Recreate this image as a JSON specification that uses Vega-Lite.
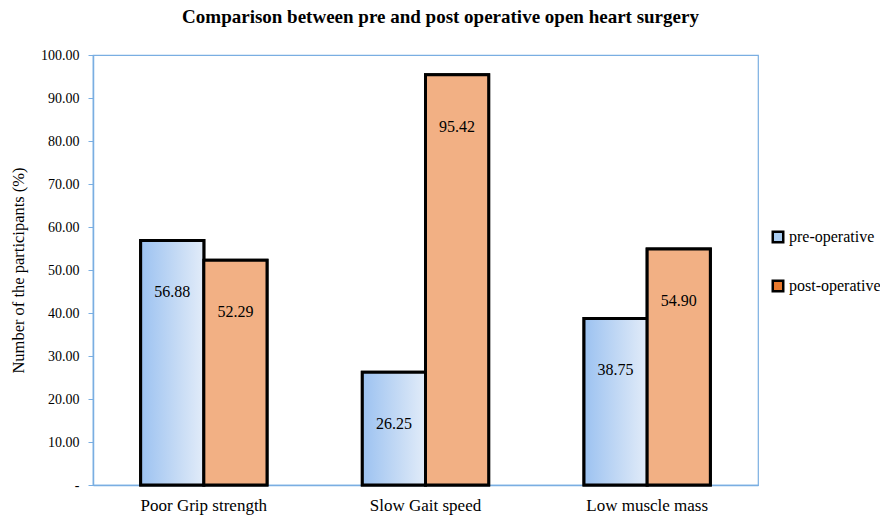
{
  "$schema": "https://vega.github.io/schema/vega-lite/v6.json",
  "autosize": "none",
  "width": 665,
  "height": 430,
  "padding": {"left": 93, "top": 55, "right": 122, "bottom": 32},
  "background": "white",
  "title": {
    "text": "Comparison between pre and post operative open heart surgery",
    "font": "Liberation Serif",
    "fontSize": 19,
    "fontWeight": "bold",
    "color": "black",
    "anchor": "middle",
    "dx": 15,
    "offset": 21
  },
  "config": {
    "view": {"stroke": "#7aaee2", "strokeWidth": 1.2},
    "font": "Liberation Serif"
  },
  "data": {
    "values": [
      {"Category": "Poor Grip strength", "Period": "pre-operative", "Value": 56.88},
      {"Category": "Poor Grip strength", "Period": "post-operative", "Value": 52.29},
      {"Category": "Slow Gait speed", "Period": "pre-operative", "Value": 26.25},
      {"Category": "Slow Gait speed", "Period": "post-operative", "Value": 95.42},
      {"Category": "Low muscle mass", "Period": "pre-operative", "Value": 38.75},
      {"Category": "Low muscle mass", "Period": "post-operative", "Value": 54.90}
    ]
  },
  "encoding": {
    "x": {
      "field": "Category",
      "type": "nominal",
      "sort": ["Poor Grip strength", "Slow Gait speed", "Low muscle mass"],
      "scale": {"paddingInner": 0.43, "paddingOuter": 0.215},
      "axis": {
        "title": null,
        "labelAngle": 0,
        "labelFont": "Liberation Serif",
        "labelFontSize": 17,
        "labelColor": "black",
        "labelPadding": 12,
        "ticks": false,
        "domainColor": "#7aaee2",
        "domainWidth": 1.5
      }
    },
    "xOffset": {
      "field": "Period",
      "type": "nominal",
      "sort": ["pre-operative", "post-operative"],
      "scale": {"paddingInner": 0, "paddingOuter": 0}
    },
    "y": {
      "field": "Value",
      "type": "quantitative",
      "scale": {"domain": [0, 100], "nice": false},
      "axis": {
        "title": "Number of the participants (%)",
        "titleFont": "Liberation Serif",
        "titleFontSize": 16.5,
        "titleFontWeight": "normal",
        "titleColor": "black",
        "titlePadding": 14,
        "values": [0, 10, 20, 30, 40, 50, 60, 70, 80, 90, 100],
        "labelExpr": "datum.value == 0 ? '-' : format(datum.value, '.2f')",
        "labelFont": "Liberation Serif",
        "labelFontSize": 14,
        "labelColor": "black",
        "labelPadding": 9,
        "grid": false,
        "tickColor": "#7aaee2",
        "tickSize": 5,
        "domainColor": "#7aaee2",
        "domainWidth": 1.5
      }
    }
  },
  "layer": [
    {
      "mark": {"type": "bar", "stroke": "black", "strokeWidth": 3},
      "encoding": {
        "color": {
          "field": "Period",
          "type": "nominal",
          "sort": ["pre-operative", "post-operative"],
          "scale": {"domain": ["pre-operative", "post-operative"], "range": ["#a9cdf2", "#e8782c"]},
          "legend": {
            "title": null,
            "orient": "none",
            "legendX": 677,
            "legendY": 174,
            "symbolType": "square",
            "symbolSize": 110,
            "symbolStrokeColor": "black",
            "symbolStrokeWidth": 2.5,
            "symbolOpacity": 1,
            "labelFont": "Liberation Serif",
            "labelFontSize": 16,
            "labelColor": "black",
            "labelOffset": 3,
            "rowPadding": 27
          }
        }
      }
    },
    {
      "transform": [{"filter": "datum.Period == 'pre-operative'"}],
      "mark": {
        "type": "bar",
        "stroke": "black",
        "strokeWidth": 3,
        "color": {
          "gradient": "linear",
          "x1": 0, "y1": 0, "x2": 1, "y2": 0,
          "stops": [
            {"offset": 0, "color": "#9cc2f1"},
            {"offset": 0.6, "color": "#c6dbf5"},
            {"offset": 1, "color": "#e2ecf9"}
          ]
        }
      }
    },
    {
      "transform": [{"filter": "datum.Period == 'post-operative'"}],
      "mark": {"type": "bar", "stroke": "black", "strokeWidth": 3, "color": "#f2b084"}
    },
    {
      "mark": {"type": "text", "font": "Liberation Serif", "fontSize": 16, "color": "black", "baseline": "middle", "dy": 52},
      "encoding": {
        "text": {"field": "Value", "type": "quantitative", "format": ".2f"}
      }
    }
  ]
}
